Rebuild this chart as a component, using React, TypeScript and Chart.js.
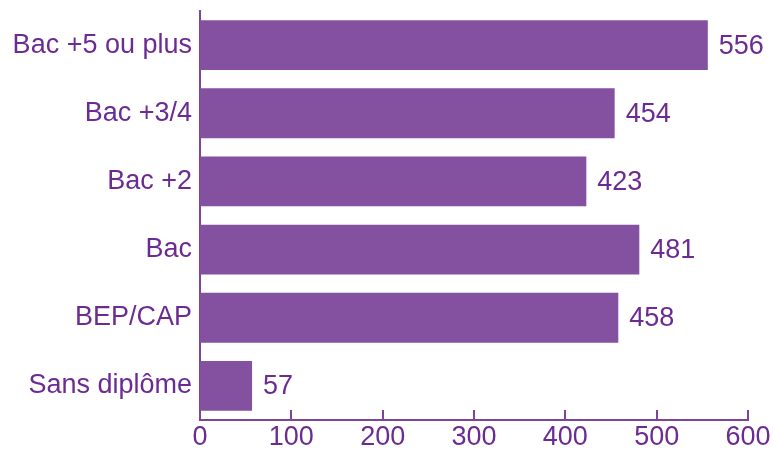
import React, { useEffect, useRef } from "react";
import { Chart, registerables } from "chart.js";

Chart.register(...registerables);

const categories = ["Bac +5 ou plus", "Bac +3/4", "Bac +2", "Bac", "BEP/CAP", "Sans diplôme"];
const values = [556, 454, 423, 481, 458, 57];
const xTicks = [0, 100, 200, 300, 400, 500, 600];

const BAR = "#8351A0";
const TEXT = "#6C2B92";
const AXIS = "#7E449C";
const FONT = "'Liberation Sans', Arial, Helvetica, sans-serif";
const FS = 27;

const valueLabels = {
  id: "valueLabels",
  afterDatasetsDraw(chart: any) {
    const ctx = chart.ctx;
    const meta = chart.getDatasetMeta(0);
    ctx.save();
    ctx.fillStyle = TEXT;
    ctx.font = `${FS}px ${FONT}`;
    ctx.textAlign = "left";
    ctx.textBaseline = "middle";
    meta.data.forEach((bar: any, i: number) => {
      ctx.fillText(String(values[i]), bar.x + 11, bar.y + 1);
    });
    ctx.restore();
  },
};

const innerTicks = {
  id: "innerTicks",
  afterDraw(chart: any) {
    const ctx = chart.ctx;
    const xs = chart.scales.x;
    const bottom = chart.chartArea.bottom;
    ctx.save();
    ctx.strokeStyle = AXIS;
    ctx.lineWidth = 2;
    xTicks.forEach((v) => {
      if (v === 0) return;
      const px = Math.round(xs.getPixelForValue(v));
      ctx.beginPath();
      ctx.moveTo(px, bottom);
      ctx.lineTo(px, bottom - 10);
      ctx.stroke();
    });
    ctx.restore();
  },
};

export default function App() {
  const ref = useRef<HTMLCanvasElement>(null);
  useEffect(() => {
    document.body.style.margin = "0";
    const chart = new Chart(ref.current!, {
      type: "bar",
      data: {
        labels: categories,
        datasets: [
          {
            data: values,
            backgroundColor: BAR,
            borderWidth: 0,
            barPercentage: 0.73,
            categoryPercentage: 1,
          },
        ],
      },
      plugins: [valueLabels, innerTicks],
      options: {
        indexAxis: "y",
        animation: false,
        responsive: false,
        maintainAspectRatio: false,
        layout: { padding: { top: 11, right: 25, left: 0, bottom: 0 } },
        plugins: { legend: { display: false }, tooltip: { enabled: false } },
        scales: {
          x: {
            min: 0,
            max: 600,
            afterBuildTicks: (s: any) => {
              s.ticks = xTicks.map((v) => ({ value: v }));
            },
            afterFit: (s: any) => {
              s.height = 29;
            },
            grid: { display: false, drawTicks: false },
            border: { display: true, color: AXIS, width: 2 },
            ticks: {
              color: TEXT,
              font: { size: FS, family: FONT },
              padding: 1,
              maxRotation: 0,
            },
          },
          y: {
            afterFit: (s: any) => {
              s.width = 200;
              s.paddingTop = 0;
              s.paddingBottom = 0;
            },
            grid: { display: false, drawTicks: false },
            border: { display: true, color: AXIS, width: 2 },
            ticks: {
              color: TEXT,
              font: { size: FS, family: FONT },
              padding: 8,
            },
          },
        },
      },
    });
    return () => chart.destroy();
  }, []);
  return (
    <div style={{ position: "fixed", left: 0, top: 0, width: 773, height: 449 }}>
      <canvas ref={ref} width={773} height={449} />
    </div>
  );
}
